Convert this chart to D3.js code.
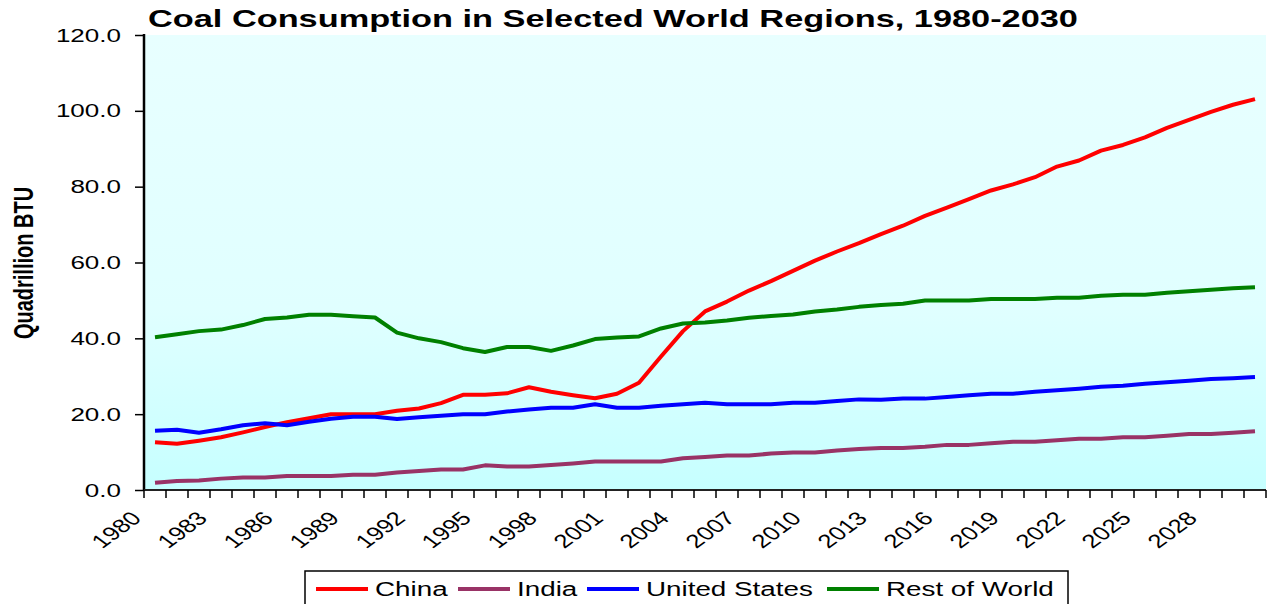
<!DOCTYPE html>
<html lang="en">
<head>
	<meta charset="UTF-8">
	<title>Coal Consumption</title>
	<script src="https://d3js.org/d3.v7.min.js"></script>
	<style>
		body { margin: 0; background: #fff; }
		text { font-family: "Liberation Sans", Arial, sans-serif; }
	</style>
</head>
<body>
	<div id="main"></div>
<script>
	// categories (years) and tick labels
	var years = [1980,1981,1982,1983,1984,1985,1986,1987,1988,1989,1990,1991,1992,1993,1994,1995,1996,1997,1998,1999,
		2000,2001,2002,2003,2004,2005,2006,2007,2008,2009,2010,2011,2012,2013,2014,2015,2016,2017,2018,2019,
		2020,2021,2022,2023,2024,2025,2026,2027,2028,2029,2030];
	var yearLabels = [1980,1983,1986,1989,1992,1995,1998,2001,2004,2007,2010,2013,2016,2019,2022,2025,2028];
	var yTicks = [0,20,40,60,80,100,120];

	// series values, quadrillion BTU
	var china = [12.6,12.2,13.0,13.9,15.2,16.6,17.9,18.9,20.0,20.0,20.0,20.9,21.5,22.9,25.1,25.1,25.5,27.1,25.9,25.0,
		24.2,25.4,28.3,35.2,41.9,47.1,49.7,52.6,55.1,57.8,60.5,62.9,65.1,67.5,69.7,72.3,74.5,76.7,79.0,80.6,
		82.5,85.3,86.9,89.5,91.0,93.0,95.5,97.6,99.7,101.6,103.1];
	var india = [1.9,2.4,2.5,3.0,3.3,3.3,3.7,3.7,3.7,4.0,4.0,4.6,5.0,5.4,5.4,6.5,6.2,6.2,6.6,7.0,
		7.5,7.5,7.5,7.5,8.4,8.7,9.1,9.1,9.6,9.9,9.9,10.4,10.8,11.1,11.1,11.4,11.9,11.9,12.3,12.7,
		12.7,13.1,13.5,13.5,13.9,13.9,14.3,14.8,14.8,15.1,15.5];
	var unitedStates = [15.6,15.9,15.1,16.0,17.1,17.6,17.1,18.0,18.8,19.3,19.3,18.7,19.2,19.6,20.0,20.0,20.7,21.2,21.7,21.7,
		22.6,21.7,21.7,22.2,22.6,23.0,22.6,22.6,22.6,23.0,23.0,23.5,23.9,23.8,24.1,24.1,24.5,25.0,25.4,25.4,
		25.9,26.3,26.7,27.2,27.5,28.0,28.4,28.8,29.3,29.5,29.8];
	var restOfWorld = [40.3,41.1,41.9,42.3,43.5,45.1,45.5,46.2,46.2,45.8,45.5,41.5,40.0,39.0,37.4,36.4,37.7,37.7,36.7,38.1,
		39.8,40.2,40.5,42.6,43.9,44.2,44.7,45.4,45.9,46.3,47.1,47.6,48.3,48.8,49.1,50.0,50.0,50.0,50.4,50.4,
		50.4,50.7,50.7,51.2,51.5,51.5,52.0,52.4,52.8,53.2,53.5];

	var seriesNames = ["China", "India", "United States", "Rest of World"];
	var seriesColors = ["#ff0000", "#993366", "#0000ff", "#008000"];
	var seriesValues = [china, india, unitedStates, restOfWorld];

	var width = 1273, height = 604;
	var plotL = 144, plotR = 1266, plotT = 35, plotB = 490;
	var stretch = 1.38;	//the reference is drawn wide, text included

	var svg = d3.select("#main")
		.append("svg")
		.attr("width", width)
		.attr("height", height);

	//background gradient of the plot area
	var grad = svg.append("defs").append("linearGradient")
		.attr("id", "bg")
		.attr("x1", 0).attr("y1", 0).attr("x2", 0).attr("y2", 1);
	grad.append("stop").attr("offset", "0%").attr("stop-color", "#e8ffff");
	grad.append("stop").attr("offset", "60%").attr("stop-color", "#e0ffff");
	grad.append("stop").attr("offset", "100%").attr("stop-color", "#c6ffff");

	var x = d3.scaleBand().domain(years).range([plotL, plotR]);
	var y = d3.scaleLinear().domain([0, 120]).range([plotB, plotT]);

	svg.append("rect")
		.attr("x", plotL).attr("y", plotT)
		.attr("width", plotR - plotL).attr("height", plotB - plotT)
		.attr("fill", "url(#bg)");

	//title
	svg.append("text")
		.attr("transform", "translate(148,27) scale(1.43,1)")
		.attr("font-size", 24).attr("font-weight", "bold")
		.text("Coal Consumption in Selected World Regions, 1980-2030");

	//y axis
	var yAxis = svg.append("g")
		.attr("transform", "translate(" + plotL + ",0)")
		.call(d3.axisLeft(y).tickValues(yTicks).tickFormat(d3.format(".1f")).tickSize(9));
	yAxis.select(".domain").attr("stroke-width", 2.5).attr("d", "M0," + (plotT - 1) + "V" + plotB);
	yAxis.selectAll(".tick line").attr("stroke-width", 1.5);
	yAxis.selectAll(".tick text")
		.attr("x", null)
		.attr("transform", "translate(-23,0) scale(1.37,1)")
		.attr("font-size", 19).attr("font-family", "Liberation Sans, Arial, sans-serif").attr("fill", "#000");

	svg.append("text")
		.attr("transform", "translate(33,263) scale(" + stretch + ",1) rotate(-90)")
		.attr("text-anchor", "middle")
		.attr("font-size", 20).attr("font-weight", "bold")
		.text("Quadrillion BTU");

	//x axis: ticks between categories
	var xg = svg.append("g");
	xg.append("line")
		.attr("x1", plotL).attr("x2", plotR)
		.attr("y1", plotB).attr("y2", plotB)
		.attr("stroke", "#222").attr("stroke-width", 2);
	xg.selectAll(".xt")
		.data(years.concat(["end"]))
		.enter()
		.append("line")
		.attr("x1", function(d){ return d === "end" ? plotR : x(d); })
		.attr("x2", function(d){ return d === "end" ? plotR : x(d); })
		.attr("y1", plotB).attr("y2", plotB + 8)
		.attr("stroke", "#000").attr("stroke-width", 1.5);
	xg.selectAll(".xl")
		.data(yearLabels)
		.enter()
		.append("text")
		.attr("text-anchor", "end")
		.attr("font-size", 19)
		.attr("transform", function(d){
			return "translate(" + (x(d) + x.bandwidth() / 2 - 25) + "," + (plotB + 20) + ") scale(1.35,1) rotate(-45)";
		})
		.attr("dy", "0.7em")
		.text(function(d){ return d; });

	//lines
	var line = d3.line()
		.x(function(d, i){ return x(years[i]) + x.bandwidth() / 2; })
		.y(function(d){ return y(d); });

	svg.selectAll(".series")
		.data(seriesValues)
		.enter()
		.append("path")
		.attr("d", line)
		.attr("fill", "none")
		.attr("stroke", function(d, i){ return seriesColors[i]; })
		.attr("stroke-width", 4)
		.attr("stroke-linejoin", "round");

	//legend
	var lg = svg.append("g");
	lg.append("rect")
		.attr("x", 305).attr("y", 571)
		.attr("width", 763).attr("height", 50)
		.attr("fill", "#fff").attr("stroke", "#000").attr("stroke-width", 1.5);
	var legendX = [316, 458, 587, 827];
	seriesNames.forEach(function(name, i){
		lg.append("line")
			.attr("x1", legendX[i]).attr("x2", legendX[i] + 52)
			.attr("y1", 589).attr("y2", 589)
			.attr("stroke", seriesColors[i]).attr("stroke-width", 4);
		lg.append("text")
			.attr("transform", "translate(" + (legendX[i] + 59) + ",596) scale(1.39,1)")
			.attr("font-size", 20)
			.text(name);
	});
</script>
</body>
</html>
